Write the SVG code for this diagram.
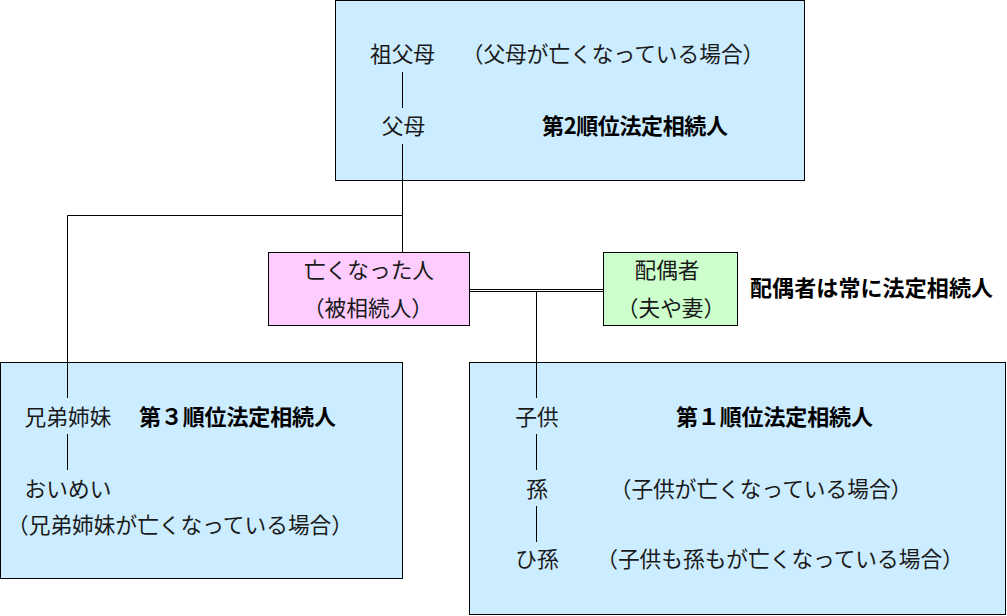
<svg xmlns="http://www.w3.org/2000/svg" width="1007" height="616" viewBox="0 0 1007 616">
<style>
.box{stroke:#000;stroke-width:1}
.blue{fill:#CCECFF}
.pink{fill:#FFCCFF}
.green{fill:#CCFFCC}
.t{font-family:"Noto Sans CJK JP","Noto Sans",sans-serif;font-size:21.7px;fill:#1a1a1a;text-anchor:middle}
.b{font-family:"Noto Sans CJK JP","Noto Sans",sans-serif;font-size:22px;font-weight:bold;fill:#000}
.ln{stroke:#000;stroke-width:1;fill:none}
</style>
<rect width="1007" height="616" fill="#fff"/>
<g id="second">
<rect class="box blue" x="335.5" y="0.5" width="469" height="180"/>
<text class="t" x="402.5" y="62">祖父母</text>
<text class="t" x="613" y="62">（父母が亡くなっている場合）</text>
<text class="t" x="403.5" y="134">父母</text>
<text class="b" x="542" y="134" textLength="186" lengthAdjust="spacing">第2順位法定相続人</text>
</g>
<g id="deceased">
<rect class="box pink" x="268.5" y="252.5" width="201" height="73"/>
<text class="t" x="369" y="278">亡くなった人</text>
<text class="t" x="368" y="316">（被相続人）</text>
</g>
<g id="spouse">
<rect class="box green" x="603.5" y="252.5" width="134" height="73"/>
<text class="t" x="667" y="278">配偶者</text>
<text class="t" x="671" y="316">（夫や妻）</text>
</g>
<g id="spouse-note">
<text class="b" x="750" y="296" textLength="243" lengthAdjust="spacing">配偶者は常に法定相続人</text>
</g>
<g id="third">
<rect class="box blue" x="0.5" y="362.5" width="402" height="216"/>
<text class="t" x="68" y="425">兄弟姉妹</text>
<text class="b" x="139" y="425" textLength="197" lengthAdjust="spacing">第３順位法定相続人</text>
<text class="t" x="68" y="497">おいめい</text>
<text class="t" x="180" y="533">（兄弟姉妹が亡くなっている場合）</text>
</g>
<g id="first">
<rect class="box blue" x="469.5" y="362.5" width="536" height="252"/>
<text class="t" x="537" y="425">子供</text>
<text class="b" x="676" y="425" textLength="197" lengthAdjust="spacing">第１順位法定相続人</text>
<text class="t" x="537" y="497">孫</text>
<text class="t" x="761" y="497">（子供が亡くなっている場合）</text>
<text class="t" x="537" y="567">ひ孫</text>
<text class="t" x="780" y="567">（子供も孫もが亡くなっている場合）</text>
</g>
<g id="connectors">
<path class="ln" d="M402.5 72V108M402.5 144V252.5"/>
<path class="ln" d="M67.5 215.5H402.5M67.5 215.5V398M67.5 434V470"/>
<path class="ln" d="M469.5 289.5H603.5M469.5 291.5H603.5"/>
<path class="ln" d="M536.5 291.5V398M536.5 434V470M536.5 506V542"/>
</g>
</svg>
